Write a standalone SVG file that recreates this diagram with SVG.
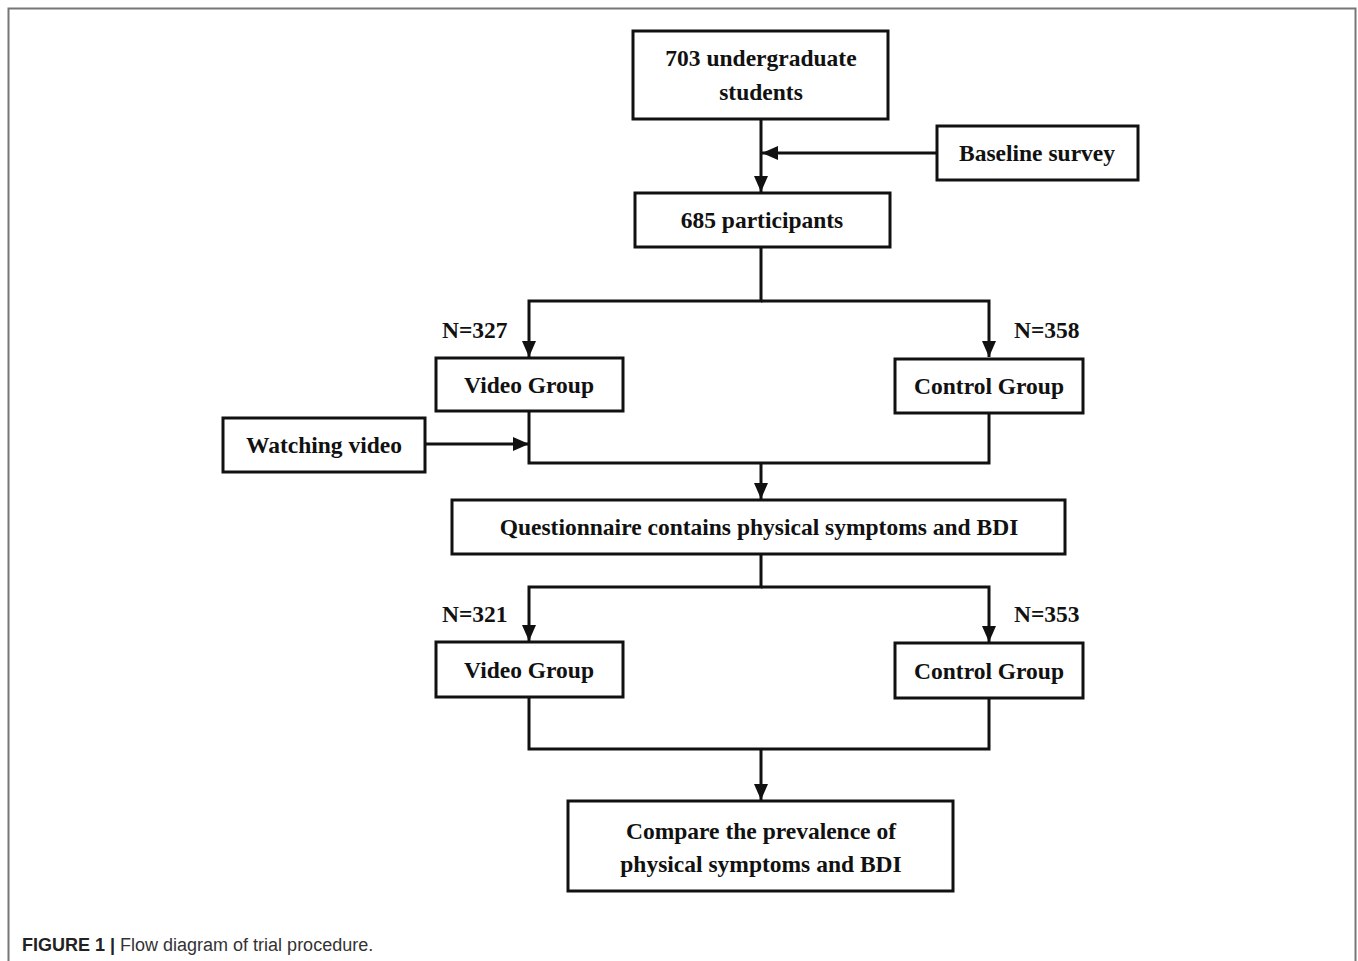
<svg xmlns="http://www.w3.org/2000/svg" width="1358" height="961" viewBox="0 0 1358 961">
<style>
.box{fill:#fff;stroke:#111;stroke-width:3}
.t{font-family:"Liberation Serif","Times New Roman",serif;font-weight:bold;font-size:23.5px;fill:#111;text-anchor:middle}
.n{font-family:"Liberation Serif","Times New Roman",serif;font-weight:bold;font-size:23.5px;fill:#111}
.c{fill:none;stroke:#111;stroke-width:3}
.cap{font-family:"Liberation Sans",Arial,sans-serif;font-size:18px;fill:#333}
</style>
<defs>
<marker id="ah" markerWidth="16" markerHeight="14" viewBox="0 0 16 14" refX="16" refY="7" orient="auto" markerUnits="userSpaceOnUse">
<path d="M0,0 L16,7 L0,14 Z" fill="#111"/>
</marker>
</defs>
<rect width="1358" height="961" fill="#fff"/>
<path d="M8.5,961 V8.5 H1355.5 V961" fill="none" stroke="#777" stroke-width="2"/>

<g id="connectors">
<path class="c" d="M761,119 V192" marker-end="url(#ah)"/>
<path class="c" d="M937,153 H762" marker-end="url(#ah)"/>
<path class="c" d="M761,247 V301 H529 V357" marker-end="url(#ah)"/>
<path class="c" d="M761,301 H989 V357" marker-end="url(#ah)"/>
<path class="c" d="M529,411 V463 H989 V413"/>
<path class="c" d="M425,444 H529" marker-end="url(#ah)"/>
<path class="c" d="M761,463 V499" marker-end="url(#ah)"/>
<path class="c" d="M761,554 V587 H529 V641" marker-end="url(#ah)"/>
<path class="c" d="M761,587 H989 V642" marker-end="url(#ah)"/>
<path class="c" d="M529,697 V749 H989 V698"/>
<path class="c" d="M761,749 V800" marker-end="url(#ah)"/>
</g>

<g id="n1"><rect class="box" x="633" y="31" width="255" height="88"/>
<text class="t" x="761" y="66">703 undergraduate</text><text class="t" x="761" y="100">students</text></g>
<g id="n2"><rect class="box" x="937" y="126" width="201" height="54"/>
<text class="t" x="1037" y="161">Baseline survey</text></g>
<g id="n3"><rect class="box" x="635" y="193" width="255" height="54"/>
<text class="t" x="762" y="228">685 participants</text></g>
<g id="l1"><text class="n" x="442" y="338">N=327</text></g>
<g id="l2"><text class="n" x="1014" y="338">N=358</text></g>
<g id="n4"><rect class="box" x="436" y="358" width="187" height="53"/>
<text class="t" x="529" y="393">Video Group</text></g>
<g id="n5"><rect class="box" x="895" y="359" width="188" height="54"/>
<text class="t" x="989" y="394">Control Group</text></g>
<g id="n6"><rect class="box" x="223" y="418" width="202" height="54"/>
<text class="t" x="324" y="453">Watching video</text></g>
<g id="n7"><rect class="box" x="452" y="500" width="613" height="54"/>
<text class="t" x="759" y="535">Questionnaire contains physical symptoms and BDI</text></g>
<g id="l3"><text class="n" x="442" y="622">N=321</text></g>
<g id="l4"><text class="n" x="1014" y="622">N=353</text></g>
<g id="n8"><rect class="box" x="436" y="642" width="187" height="55"/>
<text class="t" x="529" y="678">Video Group</text></g>
<g id="n9"><rect class="box" x="895" y="643" width="188" height="55"/>
<text class="t" x="989" y="679">Control Group</text></g>
<g id="n10"><rect class="box" x="568" y="801" width="385" height="90"/>
<text class="t" x="761" y="839">Compare the prevalence of</text><text class="t" x="761" y="872">physical symptoms and BDI</text></g>

<text class="cap" x="22" y="951"><tspan font-weight="bold" fill="#222">FIGURE 1 |</tspan> Flow diagram of trial procedure.</text>
</svg>
